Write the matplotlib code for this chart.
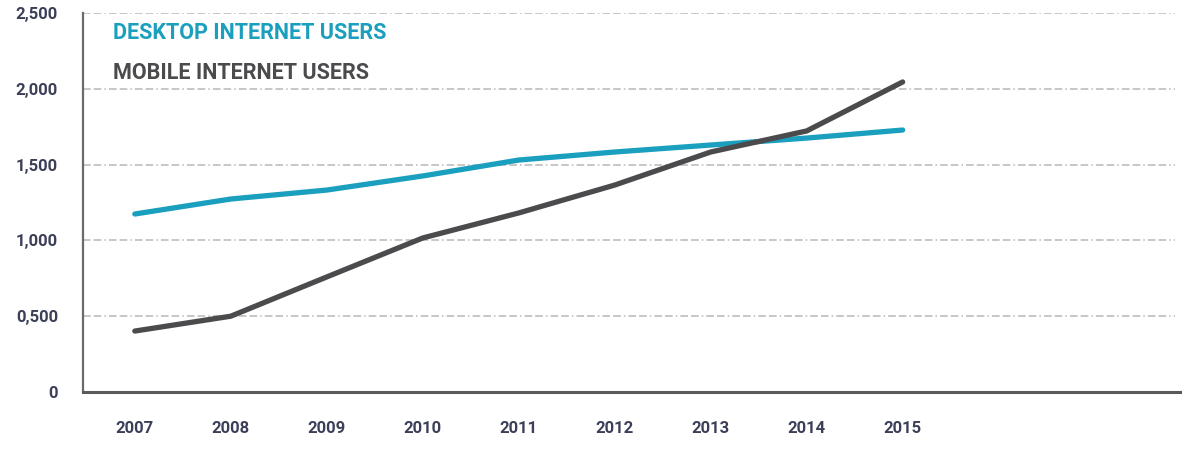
import matplotlib.pyplot as plt
from matplotlib.ticker import FixedLocator

years = [2007, 2008, 2009, 2010, 2011, 2012, 2013, 2014, 2015]
desktop = [1174, 1273, 1332, 1425, 1530, 1583, 1629, 1675, 1728]
mobile = [402, 500, 759, 1016, 1181, 1365, 1583, 1722, 2045]
yticks = [0, 500, 1000, 1500, 2000, 2500]
ytick_labels = ['0', '0,500', '1,000', '1,500', '2,000', '2,500']

desktop_color = '#1b9fbe'
mobile_color = '#4b4b4e'
text_color = '#3b3f58'

plt.rcParams['font.family'] = ['Roboto', 'DejaVu Sans']

fig = plt.figure(figsize=(11.91, 4.72), dpi=100)
ax = fig.add_axes([0.0697, 0.1695, 0.9211, 0.803])

ax.plot(years, desktop, color=desktop_color, lw=3.8, solid_capstyle='round', zorder=3)
ax.plot(years, mobile, color=mobile_color, lw=3.8, solid_capstyle='round', zorder=4)

ax.set_xlim(2006.46, 2017.89)
ax.set_ylim(0, 2500)
ax.set_xticks(years)
ax.set_xticklabels([str(y) for y in years])
ax.yaxis.set_major_locator(FixedLocator(yticks))
ax.set_yticklabels(ytick_labels)

for v in yticks[1:]:
    ax.axhline(v, xmin=0, xmax=0.995, color='#b8b8b8', lw=1.1,
               linestyle=(0, (5, 2, 5, 2, 1, 2)), zorder=1)

ax.tick_params(length=0, labelsize=12, labelcolor=text_color)
ax.tick_params(axis='x', pad=21)
ax.tick_params(axis='y', pad=18)
for lab in ax.get_xticklabels() + ax.get_yticklabels():
    lab.set_fontweight('bold')

ax.spines['top'].set_visible(False)
ax.spines['right'].set_visible(False)
ax.spines['left'].set_color('#6b6b6b')
ax.spines['left'].set_linewidth(1.6)
ax.spines['bottom'].set_color('#5a5a5a')
ax.spines['bottom'].set_linewidth(2.2)

ax.text(0.027, 0.947, 'DESKTOP INTERNET USERS', transform=ax.transAxes,
        color=desktop_color, fontsize=15.5, fontweight='bold', va='center')
ax.text(0.027, 0.842, 'MOBILE INTERNET USERS', transform=ax.transAxes,
        color=mobile_color, fontsize=15.5, fontweight='bold', va='center')

plt.savefig('out.png', dpi=100)
